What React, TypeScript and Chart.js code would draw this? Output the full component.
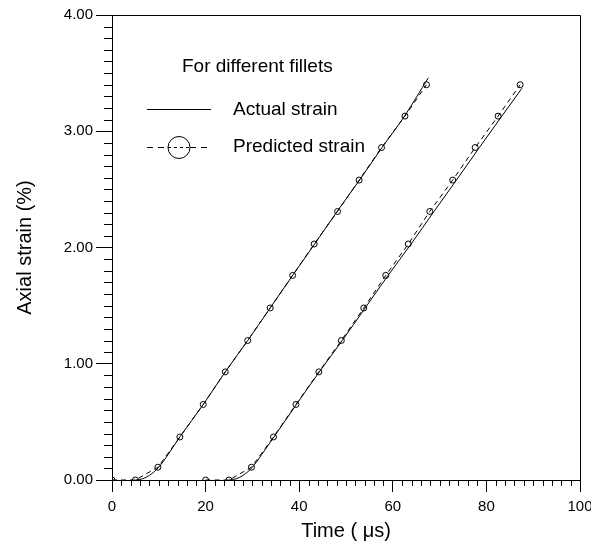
import React, { useEffect, useRef } from 'react';
import { Chart, registerables } from 'chart.js';

Chart.register(...registerables);

// ---- data ----
const predTime1 = [0, 5, 9.8, 14.5, 19.5, 24.2, 29, 33.8, 38.6, 43.2, 48.2, 52.8, 57.6, 62.6, 67.2];
const predTime2 = [20, 25, 29.8, 34.5, 39.3, 44.2, 49, 53.8, 58.5, 63.3, 67.9, 72.8, 77.6, 82.5, 87.2];
const predStrain = [0, 0, 0.11, 0.37, 0.65, 0.93, 1.2, 1.48, 1.76, 2.03, 2.31, 2.58, 2.86, 3.13, 3.4];

const actTime1 = [5, 6.5, 8, 10, 12, 14.5, 19.5, 24.2, 29, 33.8, 38.6, 43.3, 48.1, 52.9, 57.7, 62.5, 67.6];
const actStrain1 = [0, 0.01, 0.04, 0.11, 0.22, 0.37, 0.65, 0.93, 1.2, 1.48, 1.76, 2.03, 2.31, 2.58, 2.86, 3.13, 3.46];

const actTime2 = [25, 26.5, 28, 30, 32, 34.6, 39.4, 44.3, 49.2, 54.1, 59.0, 63.9, 68.8, 73.6, 78.5, 83.3, 87.6];
const actStrain2 = [0, 0.01, 0.04, 0.11, 0.22, 0.37, 0.65, 0.93, 1.2, 1.48, 1.76, 2.03, 2.31, 2.58, 2.86, 3.13, 3.37];

const xTickLabels = ['0', '20', '40', '60', '80', '100'];
const yTickLabels = ['0.00', '1.00', '2.00', '3.00', '4.00'];

const legendTitle = 'For different fillets';
const legendActual = 'Actual strain';
const legendPredicted = 'Predicted strain';
const xTitle = 'Time ( \u03bcs)';
const yTitle = 'Axial strain (%)';

const FONT = "'Liberation Sans', Arial, Helvetica, sans-serif";

const zip = (xs: number[], ys: number[]) => xs.map((x, i) => ({ x, y: ys[i] }));

const decorPlugin = {
  id: 'decor',
  afterDraw(chart: any) {
    const { ctx, chartArea: a, scales } = chart;
    const x = scales.x;
    const y = scales.y;
    ctx.save();
    ctx.strokeStyle = '#000';
    ctx.lineWidth = 1;
    // frame
    ctx.beginPath();
    ctx.moveTo(Math.round(a.left) + 0.5, Math.round(a.top) + 0.5);
    ctx.lineTo(Math.round(a.right) + 0.5, Math.round(a.top) + 0.5);
    ctx.lineTo(Math.round(a.right) + 0.5, Math.round(a.bottom) + 0.5);
    ctx.stroke();
    // minor ticks
    ctx.beginPath();
    for (let v = 0; v <= 100; v += 2) {
      if (v % 20 === 0) continue;
      const px = Math.round(x.getPixelForValue(v)) + 0.5;
      ctx.moveTo(px, a.bottom);
      ctx.lineTo(px, a.bottom + 6);
    }
    for (let i = 0; i <= 40; i++) {
      if (i % 10 === 0) continue;
      const py = Math.round(y.getPixelForValue(i / 10)) + 0.5;
      ctx.moveTo(a.left, py);
      ctx.lineTo(a.left - 8, py);
    }
    ctx.stroke();

    // legend
    ctx.fillStyle = '#000';
    ctx.font = `19px ${FONT}`;
    ctx.textBaseline = 'middle';
    ctx.textAlign = 'left';
    ctx.fillText(legendTitle, 182, 67);
    ctx.fillText(legendActual, 233, 110);
    ctx.fillText(legendPredicted, 233, 147);
    ctx.beginPath();
    ctx.moveTo(147, 109.5);
    ctx.lineTo(211, 109.5);
    ctx.stroke();
    ctx.setLineDash([6, 5]);
    ctx.beginPath();
    ctx.moveTo(147, 147.5);
    ctx.lineTo(168, 147.5);
    ctx.moveTo(190, 147.5);
    ctx.lineTo(211, 147.5);
    ctx.stroke();
    ctx.setLineDash([3, 3]);
    ctx.beginPath();
    ctx.moveTo(168, 147.5);
    ctx.lineTo(190, 147.5);
    ctx.stroke();
    ctx.setLineDash([]);
    ctx.beginPath();
    ctx.arc(179, 147.5, 11, 0, Math.PI * 2);
    ctx.stroke();
    ctx.restore();
  },
};

export default function App() {
  const ref = useRef<HTMLCanvasElement | null>(null);
  useEffect(() => {
    if (!ref.current) return;
    Chart.defaults.font.family = FONT;
    Chart.defaults.color = '#000';
    const dashed = {
      borderColor: '#000',
      borderWidth: 1,
      borderDash: [5, 4],
      pointRadius: 3,
      pointBorderWidth: 1,
      pointBorderColor: '#000',
      pointBackgroundColor: 'rgba(0,0,0,0)',
      showLine: true,
      tension: 0,
    };
    const solid = {
      borderColor: '#000',
      borderWidth: 1,
      pointRadius: 0,
      showLine: true,
      cubicInterpolationMode: 'monotone' as const,
    };
    const chart = new Chart(ref.current, {
      type: 'scatter',
      data: {
        datasets: [
          { label: 'Actual 1', data: zip(actTime1, actStrain1), ...solid },
          { label: 'Actual 2', data: zip(actTime2, actStrain2), ...solid },
          { label: 'Predicted 1', data: zip(predTime1, predStrain), ...dashed },
          { label: 'Predicted 2', data: zip(predTime2, predStrain), ...dashed },
        ],
      },
      options: {
        animation: false,
        responsive: true,
        maintainAspectRatio: false,
        layout: { padding: { top: 15, right: 11, left: 0, bottom: 0 } },
        plugins: { legend: { display: false }, tooltip: { enabled: false } },
        scales: {
          x: {
            type: 'linear',
            min: 0,
            max: 100,
            afterBuildTicks: (s: any) => {
              s.ticks = xTickLabels.map((t) => ({ value: Number(t) }));
            },
            ticks: {
              autoSkip: false,
              maxRotation: 0,
              padding: 6,
              font: { size: 15 },
              callback: (v: any) => String(v),
            },
            grid: { drawOnChartArea: false, tickLength: 12, color: '#000', tickColor: '#000' },
            border: { display: true, color: '#000' },
            title: { display: true, text: xTitle, font: { size: 20 }, padding: { top: 0, bottom: 3 } },
            afterFit: (s: any) => {
              s.height = 66;
              s.paddingLeft = 0;
              s.paddingRight = 0;
            },
          },
          y: {
            type: 'linear',
            min: 0,
            max: 4,
            afterBuildTicks: (s: any) => {
              s.ticks = yTickLabels.map((t) => ({ value: Number(t) }));
            },
            ticks: {
              autoSkip: false,
              padding: 3,
              font: { size: 15 },
              callback: (v: any) => Number(v).toFixed(2),
            },
            grid: { drawOnChartArea: false, tickLength: 16, color: '#000', tickColor: '#000' },
            border: { display: true, color: '#000' },
            title: { display: true, text: yTitle, font: { size: 20 }, padding: { top: 13, bottom: 0 } },
            afterFit: (s: any) => {
              s.width = 112;
              s.paddingTop = 0;
              s.paddingBottom = 0;
            },
          },
        },
      },
      plugins: [decorPlugin],
    });
    return () => chart.destroy();
  }, []);
  return (
    <div style={{ position: 'absolute', left: 0, top: 0, width: 591, height: 546 }}>
      <canvas ref={ref} />
    </div>
  );
}
